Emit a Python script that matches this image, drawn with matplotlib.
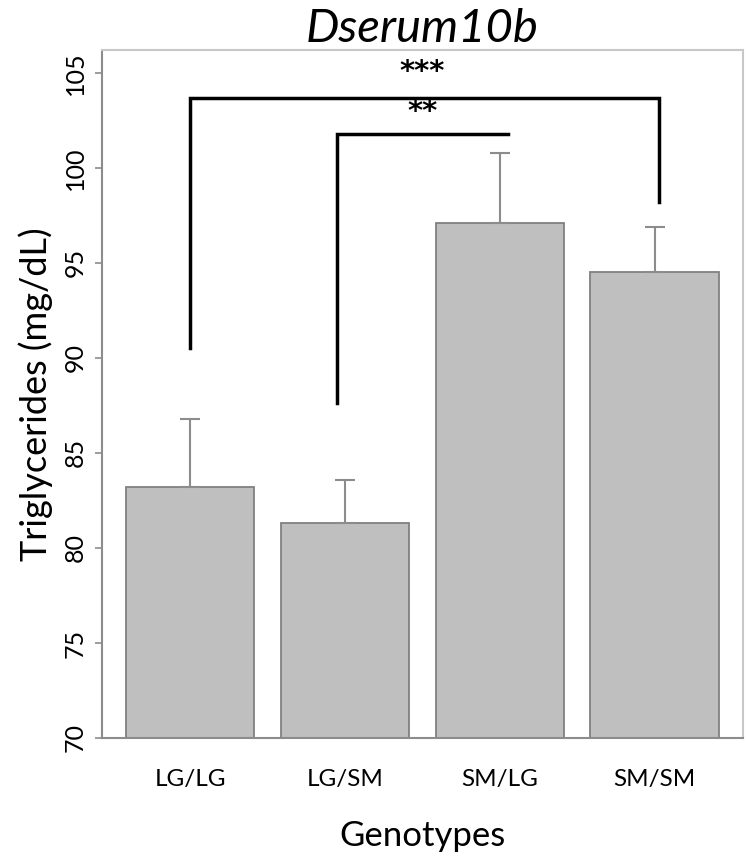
import matplotlib
matplotlib.use("Agg")
import matplotlib.pyplot as plt

genotypes = ["LG/LG", "LG/SM", "SM/LG", "SM/SM"]
means = [83.2, 81.3, 97.1, 94.5]
sem = [3.6, 2.3, 3.7, 2.4]

yticks = [70, 75, 80, 85, 90, 95, 100, 105]

fig = plt.figure(figsize=(7.47, 8.61), dpi=100)
ax = fig.add_axes([0.1365, 0.1429, 0.858, 0.799])

x = list(range(len(genotypes)))
ax.bar(x, means, width=0.83, color="#bfbfbf", edgecolor="#808080", linewidth=1.3, zorder=2)
ax.errorbar(x, means, yerr=[[0]*len(sem), sem], fmt="none", ecolor="#8c8c8c",
            elinewidth=1.5, capsize=7, capthick=1.5, zorder=3)

ax.set_ylim(70, 106.2)
ax.set_xlim(-0.57, 3.57)
ax.set_yticks(yticks)
ax.set_yticklabels([str(t) for t in yticks], rotation=90, va="center",
                   fontsize=18, family="Lato")
ax.set_xticks(x)
ax.set_xticklabels(genotypes, fontsize=17.5, family="Lato")
ax.tick_params(axis="x", length=0, pad=22)
ax.tick_params(axis="y", length=5, color="#8c8c8c", width=1.2, pad=6)

for s in ["left", "bottom"]:
    ax.spines[s].set_color("#8c8c8c")
    ax.spines[s].set_linewidth(1.5)
for s in ["top", "right"]:
    ax.spines[s].set_color("#c8c8c8")
    ax.spines[s].set_linewidth(1.5)

ax.set_ylabel("Triglycerides (mg/dL)", fontsize=26, family="Lato", labelpad=8)
ax.set_xlabel("Genotypes", fontsize=25, family="Lato", labelpad=22)
ax.set_title("Dserum10b", fontsize=34, family="Lato", style="italic", pad=2)

# significance brackets
ax.plot([0, 0, 3.03, 3.03], [90.5, 103.7, 103.7, 98.2], color="black", lw=2.5,
        solid_joinstyle="miter", zorder=4)
ax.text(1.5, 104.3, "***", ha="center", va="bottom", fontsize=21,
        family="DejaVu Sans", fontweight="bold")
ax.plot([0.95, 0.95, 2.05], [87.6, 101.8, 101.8], color="black", lw=2.5,
        solid_joinstyle="miter", zorder=4)
ax.text(1.5, 102.2, "**", ha="center", va="bottom", fontsize=21,
        family="DejaVu Sans", fontweight="bold")

fig.savefig("out.png", dpi=100)
